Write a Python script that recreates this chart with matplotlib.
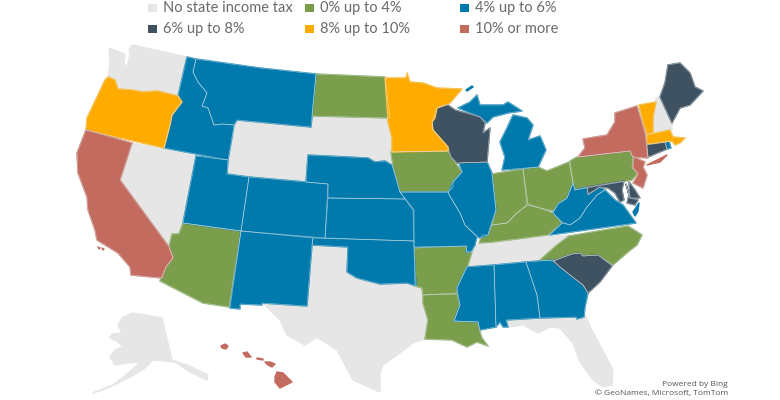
import matplotlib
matplotlib.use("Agg")
import matplotlib.pyplot as plt

# legend categories, same order as the reference (row by row)
BANDS = ["No state income tax", "0% up to 4%", "4% up to 6%", "6% up to 8%", "8% up to 10%", "10% or more"]
BAND_COLORS = ["#E6E6E6", "#7A9E4B", "#0079AC", "#3F5262", "#FFAB00", "#C26B5E"]

NO_TAX = ["WA", "NV", "WY", "SD", "TX", "FL", "TN", "AK", "NH"]
UP_TO_4 = ["ND", "AZ", "IA", "LA", "AR", "IN", "OH", "PA", "KY", "NC"]
UP_TO_6 = ["ID", "MT", "UT", "CO", "NE", "KS", "OK", "NM", "MO", "IL", "MI", "MI2", "MI3", "MS", "AL", "GA", "WV", "VA", "VA2", "RI"]
UP_TO_8 = ["WI", "ME", "SC", "CT", "MD", "MD2", "DE"]
UP_TO_10 = ["OR", "MN", "VT", "MA"]
OVER_10 = ["CA", "CA2", "CA3", "NY", "NY2", "NJ", "HI1", "HI2", "HI3", "HI4", "HI5"]
BAND_STATES = [NO_TAX, UP_TO_4, UP_TO_6, UP_TO_8, UP_TO_10, OVER_10]

# small islands get no pale border, it would wash them out
NO_BORDER = ["CA2", "CA3", "MI3", "VA2", "NY2", "HI1", "HI2", "HI3", "HI4", "HI5"]

# state outlines, in image pixels
OUTLINES = {
    "WA": [(109, 48), (125, 54), (124, 65), (127, 66), (130, 55), (129, 50), (132, 45), (187, 57), (178, 95), (157, 91), (143, 92), (132, 89), (118, 88), (115, 79), (108, 77), (110, 63)],
    "OR": [(108, 77), (115, 80), (118, 89), (132, 90), (143, 92), (157, 91), (178, 96), (182, 102), (172, 115), (170, 125), (164, 148), (86, 130), (87, 118), (98, 95), (105, 80)],
    "CA": [(86, 130), (132, 143), (120, 180), (169, 247), (173, 258), (166, 267), (162, 278), (131, 275), (130, 267), (118, 253), (97, 240), (95, 230), (88, 210), (87, 197), (78, 173), (77, 153)],
    "CA2": [(98, 247), (100, 248), (99, 249)],
    "CA3": [(102, 248), (104, 249), (103, 250)],
    "NV": [(132, 143), (196, 156), (183, 223), (179, 234), (172, 234), (169, 247), (120, 180)],
    "ID": [(187, 57), (196, 59), (193, 72), (198, 82), (207, 93), (202, 106), (208, 108), (214, 125), (223, 124), (234, 125), (231, 143), (228, 160), (164, 148), (170, 125), (172, 115), (182, 102), (178, 96)],
    "MT": [(196, 59), (260, 68), (316, 74), (311, 127), (237, 120), (234, 125), (223, 124), (214, 125), (208, 108), (202, 106), (207, 93), (198, 82), (193, 72)],
    "ND": [(316, 74), (385, 77), (390, 118), (312, 116)],
    "SD": [(312, 116), (390, 118), (388, 125), (392, 130), (392, 152), (390, 162), (385, 161), (375, 162), (368, 158), (308, 155)],
    "WY": [(237, 120), (311, 128), (306, 182), (227, 174), (232, 143)],
    "NE": [(308, 155), (368, 158), (375, 162), (385, 161), (392, 165), (400, 192), (405, 199), (328, 198), (328, 184), (306, 182)],
    "KS": [(328, 198), (405, 199), (413, 210), (414, 241), (325, 238)],
    "CO": [(249, 177), (306, 182), (328, 184), (325, 238), (241, 231)],
    "UT": [(196, 156), (228, 160), (227, 174), (249, 177), (241, 231), (183, 223)],
    "AZ": [(183, 223), (241, 231), (229, 307), (203, 303), (160, 281), (166, 267), (173, 258), (169, 247), (172, 234), (179, 234)],
    "NM": [(241, 231), (313, 238), (312, 245), (307, 306), (262, 303), (262, 305), (240, 304), (240, 309), (230, 308)],
    "TX": [(312, 245), (348, 247), (347, 272), (357, 278), (380, 284), (407, 283), (415, 286), (422, 288), (423, 303), (428, 320), (425, 339), (413, 343), (397, 355), (383, 365), (380, 373), (380, 392), (353, 380), (337, 350), (317, 337), (305, 345), (287, 335), (280, 320), (263, 303), (307, 306)],
    "OK": [(313, 238), (414, 241), (414, 247), (416, 286), (407, 283), (380, 284), (357, 278), (347, 272), (348, 247), (312, 245)],
    "MN": [(385, 78), (406, 78), (407, 73), (410, 82), (423, 83), (437, 88), (462, 89), (450, 103), (437, 108), (435, 118), (432, 122), (433, 130), (448, 147), (448, 151), (392, 152), (392, 138), (388, 122)],
    "IA": [(391, 152), (448, 151), (451, 157), (462, 172), (453, 182), (453, 187), (448, 192), (400, 192), (393, 167)],
    "MO": [(400, 192), (448, 192), (451, 198), (460, 213), (465, 225), (477, 237), (475, 245), (471, 252), (466, 252), (467, 246), (414, 247), (414, 210)],
    "AR": [(414, 248), (466, 246), (467, 252), (472, 252), (468, 265), (463, 275), (457, 288), (457, 293), (423, 295), (422, 288), (415, 286)],
    "LA": [(423, 295), (457, 294), (460, 305), (454, 321), (478, 322), (480, 332), (482, 338), (488, 346), (477, 342), (467, 347), (452, 340), (425, 339), (428, 320), (423, 303)],
    "WI": [(437, 108), (448, 105), (455, 110), (480, 117), (485, 123), (483, 133), (490, 128), (487, 162), (457, 163), (451, 157), (448, 147), (433, 130), (432, 122)],
    "MI": [(458, 108), (470, 102), (477, 95), (480, 105), (503, 105), (508, 102), (522, 111), (508, 113), (493, 117), (487, 123), (480, 117)],
    "MI2": [(513, 115), (527, 118), (533, 125), (528, 140), (540, 136), (546, 150), (538, 167), (502, 170), (505, 157), (500, 142), (507, 128)],
    "MI3": [(466, 90), (472, 86), (473, 87), (467, 91)],
    "IL": [(459, 163), (487, 162), (492, 173), (496, 210), (490, 227), (488, 235), (480, 238), (478, 237), (465, 225), (460, 213), (448, 193), (453, 182), (462, 172)],
    "IN": [(492, 174), (523, 169), (527, 205), (517, 213), (507, 223), (492, 225), (496, 210)],
    "OH": [(523, 169), (538, 167), (547, 171), (569, 162), (573, 183), (567, 198), (558, 204), (554, 211), (540, 208), (528, 204)],
    "KY": [(492, 225), (507, 223), (517, 213), (527, 205), (540, 208), (553, 213), (562, 223), (548, 235), (493, 242), (479, 243), (482, 235), (488, 235)],
    "TN": [(475, 245), (493, 242), (569, 235), (557, 245), (540, 260), (468, 266), (472, 252)],
    "MS": [(467, 267), (494, 265), (496, 327), (480, 330), (478, 322), (454, 321), (460, 305), (457, 288), (463, 275)],
    "AL": [(494, 265), (526, 262), (537, 295), (540, 318), (506, 320), (508, 327), (503, 327), (500, 322), (496, 327)],
    "GA": [(526, 262), (553, 260), (560, 267), (570, 275), (583, 285), (588, 293), (585, 307), (584, 317), (577, 319), (576, 317), (540, 318), (537, 295)],
    "FL": [(506, 319), (540, 318), (576, 317), (577, 319), (585, 315), (593, 332), (613, 370), (612, 385), (603, 387), (593, 380), (580, 362), (573, 343), (560, 328), (550, 327), (538, 333), (523, 325), (508, 327)],
    "SC": [(553, 261), (572, 254), (580, 253), (583, 256), (598, 255), (612, 266), (600, 282), (588, 293), (583, 285), (570, 275), (560, 267)],
    "NC": [(569, 236), (628, 226), (642, 235), (637, 245), (628, 252), (613, 265), (598, 255), (583, 256), (580, 253), (572, 254), (553, 261), (540, 260), (557, 245)],
    "VA": [(605, 190), (615, 200), (623, 205), (636, 223), (550, 235), (562, 223), (570, 225), (580, 218), (587, 207), (597, 195)],
    "VA2": [(633, 212), (639, 203), (638, 211), (635, 216)],
    "WV": [(573, 183), (575, 190), (587, 187), (588, 195), (600, 187), (605, 190), (597, 195), (587, 207), (580, 218), (570, 225), (562, 222), (553, 213), (558, 204), (567, 198)],
    "PA": [(570, 161), (577, 157), (630, 151), (633, 158), (632, 168), (638, 173), (632, 180), (575, 190), (573, 183)],
    "NY": [(578, 157), (585, 148), (583, 139), (607, 135), (615, 122), (615, 113), (637, 106), (645, 133), (648, 158), (633, 157), (630, 151)],
    "NY2": [(647, 165), (667, 155), (660, 162)],
    "NJ": [(634, 157), (645, 162), (643, 167), (647, 175), (643, 188), (633, 183), (638, 175), (633, 167)],
    "MD": [(587, 187), (624, 181), (622, 190), (624, 200), (620, 202), (615, 193), (608, 188), (600, 187), (588, 194)],
    "MD2": [(626, 184), (630, 198), (638, 200), (635, 205), (627, 203), (629, 195)],
    "DE": [(629, 182), (635, 190), (640, 198), (630, 198)],
    "CT": [(647, 145), (665, 142), (667, 149), (648, 157)],
    "RI": [(665, 142), (669, 141), (671, 148), (667, 149)],
    "MA": [(647, 135), (670, 130), (673, 137), (685, 138), (680, 143), (675, 145), (672, 141), (647, 144)],
    "VT": [(639, 105), (656, 102), (653, 117), (653, 133), (647, 134), (643, 122)],
    "NH": [(656, 98), (658, 97), (672, 123), (672, 130), (653, 133), (653, 117)],
    "ME": [(668, 65), (680, 63), (690, 73), (695, 87), (703, 91), (690, 105), (680, 108), (672, 123), (660, 97), (665, 83)],
    "AK": [(123, 317), (133, 313), (162, 318), (172, 360), (187, 365), (208, 375), (207, 380), (190, 372), (175, 362), (153, 360), (145, 368), (130, 377), (110, 387), (93, 393), (113, 385), (132, 370), (140, 362), (127, 363), (115, 365), (110, 357), (115, 350), (123, 347), (117, 341), (110, 338), (112, 334), (122, 333), (118, 325)],
    "HI1": [(277, 372), (283, 373), (292, 382), (280, 388), (275, 382), (275, 377)],
    "HI2": [(265, 362), (270, 362), (275, 364), (272, 367), (268, 365)],
    "HI3": [(243, 353), (247, 352), (251, 357), (246, 357)],
    "HI4": [(221, 346), (225, 344), (228, 346), (226, 349), (222, 348)],
    "HI5": [(257, 358), (263, 359), (263, 360), (257, 359)],
}

fig = plt.figure(figsize=(7.8, 4.0), dpi=100)
ax = fig.add_axes([0, 0, 1, 1])
ax.set_xlim(0, 780)
ax.set_ylim(400, 0)
ax.axis("off")

# own-colour edge first, it closes the small gaps between traced neighbours
for states, color in zip(BAND_STATES, BAND_COLORS):
    for name in states:
        xs, ys = zip(*OUTLINES[name])
        ax.fill(xs, ys, facecolor=color, edgecolor=color, linewidth=1.0, joinstyle="round", zorder=2)

# thin pale borders on top, skipped for the grey states
for states in BAND_STATES[1:]:
    for name in states:
        if name in NO_BORDER:
            continue
        xs, ys = zip(*OUTLINES[name])
        ax.fill(xs, ys, facecolor="none", edgecolor="#DDE8EC", linewidth=0.5, alpha=0.6, zorder=3)

# legend drawn by hand so the swatches land on the same grid as the reference
legend_x = [148, 305, 460]
legend_y = [8, 29]
for i, (label, color) in enumerate(zip(BANDS, BAND_COLORS)):
    x = legend_x[i % 3]
    y = legend_y[i // 3]
    ax.add_patch(plt.Rectangle((x, y - 4), 9, 8, facecolor=color, edgecolor="none"))
    ax.text(x + 15, y, label, fontsize=10.5, color="#6A6A6A", family="Lato", va="center", ha="left")

ax.text(728, 384, "Powered by Bing", fontsize=6, color="#555555", family="Open Sans", ha="right", va="center")
ax.text(728, 393, "© GeoNames, Microsoft, TomTom", fontsize=6, color="#555555", family="Open Sans", ha="right", va="center")

fig.savefig("out.png", dpi=100)
